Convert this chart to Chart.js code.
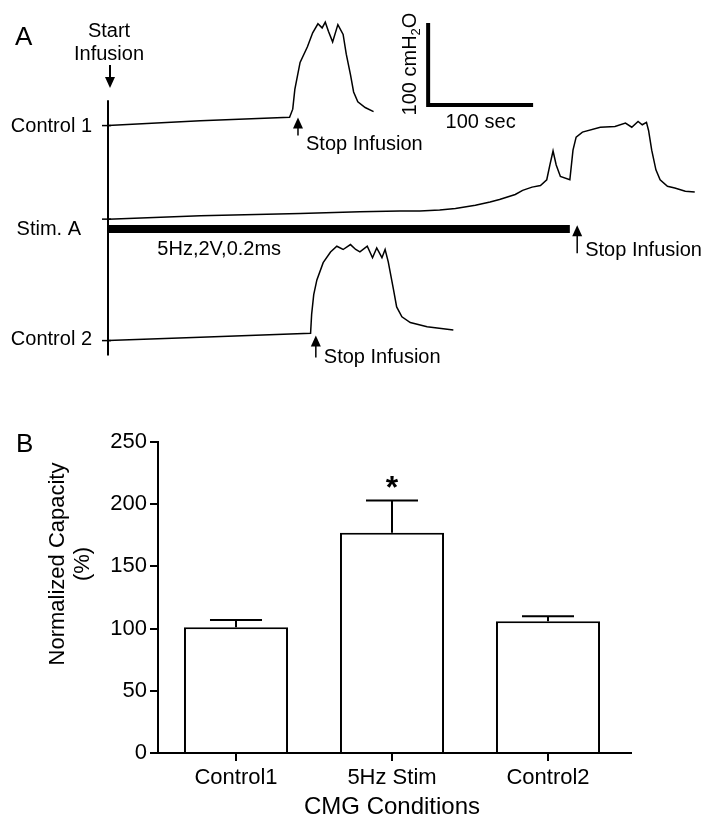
<!DOCTYPE html>
<html>
<head>
<meta charset="utf-8">
<script src="https://cdn.jsdelivr.net/npm/chart.js@4.4.0/dist/chart.umd.min.js"></script>
<style>
  html, body { margin: 0; padding: 0; background: #fff; }
  #wrap { width: 711px; height: 830px; }
  canvas { display: block; }
</style>
</head>
<body>
<div id="wrap">
  <canvas id="chartTraces" width="711" height="380"></canvas>
  <canvas id="chartCapacity" width="711" height="450"></canvas>
</div>
<script>
// ===== DATA =====

// Panel A: CMG pressure traces (time in sec from start of infusion, pressure in cmH2O above baseline)
const control1Time = [0, 88, 173, 176, 178, 183, 190, 195, 200, 204, 207, 210, 214, 219, 224, 227, 231, 234, 238, 245, 253];
const control1Pres = [0, 6, 10, 20, 44, 77, 96, 113, 124, 119, 126, 115, 102, 123, 111, 87, 62, 41, 29, 22, 17];

const stimTime = [0, 88, 183, 240, 278, 297, 316, 331, 350, 364, 373, 388, 395, 404, 412, 418, 421, 424, 427, 431, 440, 443, 446, 452, 469, 483, 493, 499, 505, 509, 513, 515, 518, 522, 526, 533, 540, 550, 559];
const stimPres = [0, 4, 7, 9, 10, 10, 11, 13, 17, 21, 24, 30, 35, 39, 41, 48, 66, 83, 66, 52, 48, 84, 100, 106, 112, 113, 117, 112, 119, 115, 118, 108, 84, 60, 48, 40, 38, 34, 33];

const control2Time = [0, 88, 193, 194, 196, 199, 205, 212, 218, 224, 231, 236, 240, 247, 252, 256, 261, 264, 267, 272, 275, 280, 288, 304, 329];
const control2Pres = [0, 4, 9, 32, 56, 74, 95, 108, 115, 111, 117, 111, 108, 115, 101, 113, 101, 111, 96, 62, 41, 29, 22, 17, 13];

const traceLabels = ['Control 1', 'Stim. A', 'Control 2'];
const stopTimes = [181, 447, 198];      // "Stop Infusion" arrows (sec)
const stimWindow = [0, 440];            // stimulation period (sec)
const stimText = '5Hz,2V,0.2ms';
const scaleBar = { sec: 100, cmH2O: 100 };

// Panel B: normalized bladder capacity
const conditions = ['Control1', '5Hz Stim', 'Control2'];
const capacityMean = [101, 177, 106];
const capacitySem = [6, 26, 4];
const significance = ['', '*', ''];
const capacityTicks = [0, 50, 100, 150, 200, 250];

// ===== LAYOUT (stacking of traces, in cmH2O units of panel A) =====
const traceOffsets = [310, 196, 48];
const stimBarLevel = 184;
const scaleBarOrigin = { x: 305, y: 335 };
const FONT = "'Liberation Sans', Arial, Helvetica, sans-serif";

Chart.defaults.font.family = FONT;
Chart.defaults.color = '#000';

function toPoints(times, pres, offset) {
  return times.map((t, i) => ({ x: t, y: pres[i] + offset }));
}

function drawArrow(ctx, x, tipY, tailY) {
  const dir = tailY > tipY ? 1 : -1;
  ctx.beginPath();
  ctx.moveTo(x, tailY);
  ctx.lineTo(x, tipY + dir * 6);
  ctx.stroke();
  ctx.beginPath();
  ctx.moveTo(x, tipY);
  ctx.lineTo(x - 5, tipY + dir * 11);
  ctx.lineTo(x + 5, tipY + dir * 11);
  ctx.closePath();
  ctx.fill();
}

// ===== PANEL A =====

const traceDecor = {
  id: 'traceDecor',
  afterDraw(chart) {
    const { ctx, scales: { x, y } } = chart;
    const x0 = x.getPixelForValue(0);
    ctx.save();
    ctx.strokeStyle = '#000';
    ctx.fillStyle = '#000';

    // vertical reference line
    ctx.lineWidth = 2;
    ctx.beginPath();
    ctx.moveTo(x0, y.getPixelForValue(341));
    ctx.lineTo(x0, y.getPixelForValue(30));
    ctx.stroke();

    // baseline ticks + labels
    ctx.font = '20px ' + FONT;
    ctx.textAlign = 'right';
    ctx.textBaseline = 'middle';
    traceOffsets.forEach((off, i) => {
      const yb = y.getPixelForValue(off);
      ctx.lineWidth = 1.5;
      ctx.beginPath();
      ctx.moveTo(x0 - 6, yb);
      ctx.lineTo(x0 + 3, yb);
      ctx.stroke();
      const lx = i === 1 ? x0 - 27 : x0 - 16;
      ctx.fillText(traceLabels[i], lx, yb + [1, 10, -1][i]);
    });

    // start infusion
    ctx.textAlign = 'center';
    ctx.textBaseline = 'alphabetic';
    ctx.fillText('Start', x0 + 1, 37);
    ctx.fillText('Infusion', x0 + 1, 60);
    ctx.lineWidth = 2;
    drawArrow(ctx, x0 + 2, 88, 65);

    // stop infusion arrows
    const tipShift = [-8, 6, -5];
    const tailShift = [18, 28, 22];
    const textBase = [150, 256, 363];
    ctx.textAlign = 'left';
    stopTimes.forEach((t, i) => {
      const xp = x.getPixelForValue(t);
      const yb = y.getPixelForValue(traceOffsets[i]);
      ctx.lineWidth = 1.5;
      drawArrow(ctx, xp, yb + tipShift[i], yb + tipShift[i] + tailShift[i]);
      ctx.fillText('Stop Infusion', xp + 8, textBase[i]);
    });

    // stim parameters
    ctx.fillText(stimText, x.getPixelForValue(47), 255);

    // scale bar labels
    const sx0 = x.getPixelForValue(scaleBarOrigin.x);
    const sx1 = x.getPixelForValue(scaleBarOrigin.x + scaleBar.sec);
    const sy0 = y.getPixelForValue(scaleBarOrigin.y);
    const sy1 = y.getPixelForValue(scaleBarOrigin.y + scaleBar.cmH2O);
    ctx.textAlign = 'center';
    ctx.fillText(scaleBar.sec + ' sec', (sx0 + sx1) / 2, sy0 + 23);

    ctx.translate(sx0 - 12, (sy0 + sy1) / 2);
    ctx.rotate(-Math.PI / 2);
    const part1 = scaleBar.cmH2O + ' cmH';
    ctx.font = '20px ' + FONT;
    const w1 = ctx.measureText(part1).width;
    const w3 = ctx.measureText('O').width;
    ctx.font = '13px ' + FONT;
    const w2 = ctx.measureText('2').width;
    const total = w1 + w2 + w3;
    let cx = -total / 2;
    ctx.textAlign = 'left';
    ctx.font = '20px ' + FONT;
    ctx.fillText(part1, cx, 0);
    cx += w1;
    ctx.font = '13px ' + FONT;
    ctx.fillText('2', cx, 4);
    cx += w2;
    ctx.font = '20px ' + FONT;
    ctx.fillText('O', cx, 0);
    ctx.restore();

    // panel letter
    ctx.save();
    ctx.font = '26px ' + FONT;
    ctx.fillStyle = '#000';
    ctx.textBaseline = 'alphabetic';
    ctx.fillText('A', 15, 45);
    ctx.restore();
  }
};

const traceStyle = { borderColor: '#000', borderWidth: 1.5, pointRadius: 0, showLine: true, tension: 0, clip: false };

new Chart(document.getElementById('chartTraces'), {
  type: 'scatter',
  data: {
    datasets: [
      { label: traceLabels[0], data: toPoints(control1Time, control1Pres, traceOffsets[0]), ...traceStyle },
      { label: traceLabels[1], data: toPoints(stimTime, stimPres, traceOffsets[1]), ...traceStyle },
      { label: traceLabels[2], data: toPoints(control2Time, control2Pres, traceOffsets[2]), ...traceStyle },
      { label: 'Stim', data: stimWindow.map(t => ({ x: t, y: stimBarLevel })), ...traceStyle, borderWidth: 8, borderCapStyle: 'butt' },
      {
        label: 'Scale',
        data: [
          { x: scaleBarOrigin.x, y: scaleBarOrigin.y + scaleBar.cmH2O },
          { x: scaleBarOrigin.x, y: scaleBarOrigin.y },
          { x: scaleBarOrigin.x + scaleBar.sec, y: scaleBarOrigin.y }
        ],
        ...traceStyle, borderWidth: 4, borderJoinStyle: 'miter', borderCapStyle: 'butt'
      }
    ]
  },
  options: {
    responsive: false, animation: false,
    layout: { padding: { left: 108, right: 11, top: 0, bottom: 0 } },
    plugins: { legend: { display: false }, tooltip: { enabled: false } },
    scales: {
      x: { type: 'linear', min: 0, max: 564, display: false },
      y: { type: 'linear', min: 0, max: 463, display: false }
    }
  },
  plugins: [traceDecor]
});

// ===== PANEL B =====

const capacityDecor = {
  id: 'capacityDecor',
  afterDatasetsDraw(chart) {
    const { ctx, chartArea, scales: { y } } = chart;
    const bars = chart.getDatasetMeta(0).data;
    ctx.save();
    ctx.strokeStyle = '#000';
    ctx.fillStyle = '#000';
    ctx.lineWidth = 2;
    bars.forEach((bar, i) => {
      const top = y.getPixelForValue(capacityMean[i] + capacitySem[i]);
      const half = bar.width / 4;
      ctx.beginPath();
      ctx.moveTo(bar.x, bar.y);
      ctx.lineTo(bar.x, top);
      ctx.moveTo(bar.x - half, top);
      ctx.lineTo(bar.x + half, top);
      ctx.stroke();
      if (significance[i]) {
        ctx.font = 'bold 32px ' + FONT;
        ctx.textAlign = 'center';
        ctx.textBaseline = 'alphabetic';
        ctx.fillText(significance[i], bar.x, top - 2);
      }
    });

    // x axis line (extends past the y axis like the original)
    ctx.beginPath();
    ctx.moveTo(chartArea.left - 8, chartArea.bottom);
    ctx.lineTo(chartArea.right + 6, chartArea.bottom);
    ctx.stroke();

    // y title
    ctx.font = '22px ' + FONT;
    ctx.textAlign = 'center';
    ctx.textBaseline = 'middle';
    ctx.translate(0, 184);
    ctx.rotate(-Math.PI / 2);
    ctx.fillText('Normalized Capacity', 0, 58);
    ctx.fillText('(%)', 0, 83);
    ctx.restore();

    ctx.save();
    ctx.font = '26px ' + FONT;
    ctx.fillStyle = '#000';
    ctx.fillText('B', 16, 72);
    ctx.restore();
  }
};

new Chart(document.getElementById('chartCapacity'), {
  type: 'bar',
  data: {
    labels: conditions,
    datasets: [{
      label: 'Normalized Capacity',
      data: capacityMean,
      backgroundColor: '#fff',
      borderColor: '#000',
      borderWidth: 2,
      barPercentage: 0.667,
      categoryPercentage: 1
    }]
  },
  options: {
    responsive: false, animation: false,
    layout: { padding: { left: 0, right: 85, top: 62, bottom: 0 } },
    plugins: { legend: { display: false }, tooltip: { enabled: false } },
    scales: {
      x: {
        afterFit(s) { s.height = 77; },
        grid: { drawOnChartArea: false, offset: false, tickLength: 8, color: '#000', lineWidth: 2 },
        border: { display: false },
        ticks: { font: { size: 22 }, color: '#000', padding: 4 },
        title: { display: true, text: 'CMG Conditions', font: { size: 24 }, color: '#000', padding: { top: 0, bottom: 8 } }
      },
      y: {
        min: 0, max: 250,
        afterFit(s) { s.width = 158; },
        afterBuildTicks(s) { s.ticks = capacityTicks.map(v => ({ value: v })); },
        grid: { drawOnChartArea: false, tickLength: 8, color: '#000', lineWidth: 2 },
        border: { color: '#000', width: 2 },
        ticks: { font: { size: 22 }, color: '#000', padding: 3 }
      }
    }
  },
  plugins: [capacityDecor]
});
</script>
</body>
</html>
